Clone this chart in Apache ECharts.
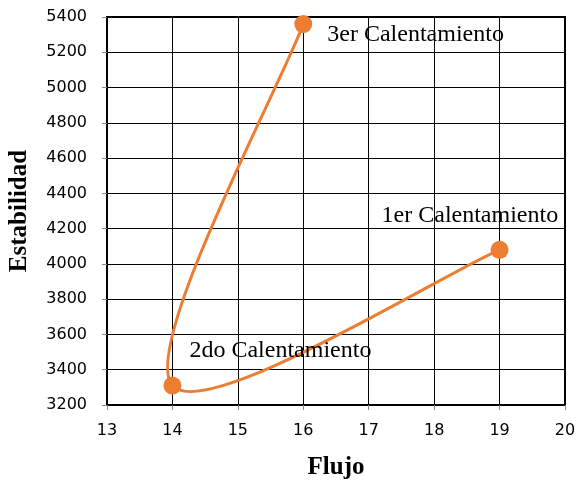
<!DOCTYPE html>
<html>
<head>
<meta charset="utf-8">
<script src="https://cdn.jsdelivr.net/npm/echarts@6/dist/echarts.min.js"></script>
<style>
  html, body { margin: 0; padding: 0; background: #fff; }
  #chart { width: 577px; height: 485px; }
</style>
</head>
<body>
<div id="chart"></div>
<script>
// datos
var flujo = [19, 14, 16];
var estabilidad = [4080, 3310, 5360];
var etiquetas = ['1er Calentamiento', '2do Calentamiento', '3er Calentamiento'];
var etiquetaOffset = [[-132, -34], [3, -35], [10, 11]];

var chart = echarts.init(document.getElementById('chart'));

var datos = [];
var puntos = [];
for (var i = 0; i < flujo.length; i++) {
    datos.push([flujo[i], estabilidad[i]]);
    puntos.push({
        value: [flujo[i], estabilidad[i]],
        label: {
            show: true,
            formatter: etiquetas[i],
            position: 'right',
            offset: etiquetaOffset[i]
        }
    });
}

// linea suavizada tipo Excel (bezier entre puntos consecutivos)
function dibujarTramo(params, api) {
    var i = params.dataIndex;
    if (i === 0) return;
    var p = [];
    for (var j = 0; j < datos.length; j++) {
        p.push(api.coord(datos[j]));
    }
    var p0 = p[i - 1], p1 = p[i];
    var ant = p[i - 2] || p0;
    var sig = p[i + 1] || p1;
    return {
        type: 'bezierCurve',
        shape: {
            x1: p0[0], y1: p0[1],
            x2: p1[0], y2: p1[1],
            cpx1: p0[0] + (p1[0] - ant[0]) / 6,
            cpy1: p0[1] + (p1[1] - ant[1]) / 6,
            cpx2: p1[0] - (sig[0] - p0[0]) / 6,
            cpy2: p1[1] - (sig[1] - p0[1]) / 6
        },
        style: { stroke: '#ED7D31', lineWidth: 3, fill: 'none' }
    };
}

var option = {
    animation: false,
    grid: {
        left: 107, right: 12, top: 17, bottom: 80,
        outerBoundsMode: 'none', containLabel: false,
        show: true, borderColor: '#000', borderWidth: 2
    },
    xAxis: {
        type: 'value', min: 13, max: 20, interval: 1,
        name: 'Flujo', nameLocation: 'middle', nameGap: 50,
        nameTextStyle: { fontFamily: 'Liberation Serif', fontWeight: 'bold', fontSize: 25, color: '#000' },
        axisLine: { show: true, lineStyle: { color: '#000', width: 2 } },
        axisTick: { show: true, length: 5, lineStyle: { color: '#888' } },
        axisLabel: { fontFamily: 'DejaVu Sans', fontSize: 16, color: '#000', margin: 18 },
        splitLine: { show: true, lineStyle: { color: '#000', width: 1 } }
    },
    yAxis: {
        type: 'value', min: 3200, max: 5400, interval: 200,
        name: 'Estabilidad', nameLocation: 'middle', nameGap: 75,
        nameTextStyle: { fontFamily: 'Liberation Serif', fontWeight: 'bold', fontSize: 25, color: '#000' },
        axisLine: { show: true, lineStyle: { color: '#000', width: 2 } },
        axisTick: { show: true, length: 5, lineStyle: { color: '#888' } },
        axisLabel: {
            fontFamily: 'DejaVu Sans', fontSize: 16, color: '#000', margin: 20,
            formatter: function (v) { return String(v); }
        },
        splitLine: { show: true, lineStyle: { color: '#000', width: 1 } }
    },
    series: [{
        type: 'custom',
        data: datos,
        encode: { x: 0, y: 1 },
        renderItem: dibujarTramo,
        silent: true,
        z: 2
    }, {
        type: 'scatter',
        data: puntos,
        symbol: 'circle',
        symbolSize: 18,
        itemStyle: { color: '#ED7D31', opacity: 1 },
        label: {
            fontFamily: 'Liberation Serif', fontSize: 24, color: '#000'
        },
        z: 3
    }]
};

chart.setOption(option);
</script>
</body>
</html>
